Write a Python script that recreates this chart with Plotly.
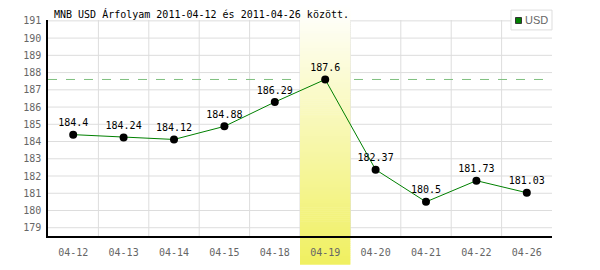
import plotly.graph_objects as go

dates = ["04-12", "04-13", "04-14", "04-15", "04-18", "04-19", "04-20", "04-21", "04-22", "04-26"]
usd = [184.4, 184.24, 184.12, 184.88, 186.29, 187.6, 182.37, 180.5, 181.73, 181.03]
y_ticks = list(range(179, 192))
title_text = "MNB USD Árfolyam 2011-04-12 és 2011-04-26 között."
legend_name = "USD"
highlight = "04-19"

W, H = 600, 270
ML, MR, MT, MB = 48, 48, 20, 32
plot_w = W - ML - MR
plot_h = H - MT - MB
mono = "DejaVu Sans Mono"
GRID = "#dddddd"

def px_x(px):
    return (px - ML) / plot_w

def px_y(py):
    return (H - MB - py) / plot_h

fig = go.Figure()
fig.add_trace(go.Scatter(
    x=dates, y=usd, mode="lines+markers+text",
    line=dict(color="#008000", width=1),
    marker=dict(color="#000000", size=8),
    text=[f"{v:g}" for v in usd], textposition="top center",
    textfont=dict(family=mono, size=10, color="#000000"),
    showlegend=False, cliponaxis=False,
))

n = len(dates)
shapes = []
# gridlines (drawn as shapes so the band can cover them)
for v in y_ticks:
    shapes.append(dict(type="line", xref="paper", yref="y", x0=0, x1=1, y0=v, y1=v,
                       line=dict(color=GRID, width=1), layer="below"))
for k in range(n - 1):
    shapes.append(dict(type="line", xref="x", yref="paper", x0=k + 0.5, x1=k + 0.5, y0=0, y1=1,
                       line=dict(color=GRID, width=1), layer="below"))

# max dashed line
shapes.append(dict(type="line", xref="paper", yref="y", x0=0, x1=1, y0=max(usd), y1=max(usd),
                   line=dict(color="#7fc07f", width=1, dash="dash"), layer="below"))

# highlight band gradient
hi = dates.index(highlight)
x0p = hi / n
x1p = (hi + 1) / n
top_px, bot_px = 5, 267
step = 2
def col(py):
    t = (py - top_px) / (bot_px - top_px)
    t = max(0, min(1, t))
    r = round(255 + (240 - 255) * t)
    g = round(255 + (240 - 255) * t)
    b = round(255 + (96 - 255) * t)
    return f"rgb({r},{g},{b})"
py = top_px
while py < bot_px:
    py2 = min(py + step, bot_px)
    c = col((py + py2) / 2)
    shapes.append(dict(type="rect", xref="paper", yref="paper", x0=x0p, x1=x1p,
                       y0=px_y(min(py2 + 0.6, bot_px)), y1=px_y(py), fillcolor=c,
                       line=dict(width=0), layer="below"))
    py = py2

# legend box
shapes.append(dict(type="rect", xref="paper", yref="paper", x0=px_x(511), x1=px_x(552),
                   y0=px_y(30), y1=px_y(10), fillcolor="white",
                   line=dict(color=GRID, width=1), layer="above"))
shapes.append(dict(type="rect", xref="paper", yref="paper", x0=px_x(515.5), x1=px_x(521.5),
                   y0=px_y(23.5), y1=px_y(17.5), fillcolor="#008000",
                   line=dict(color="#333333", width=1), layer="above"))

fig.update_layout(
    width=W, height=H,
    margin=dict(l=ML, r=MR, t=MT, b=MB),
    paper_bgcolor="white", plot_bgcolor="rgba(0,0,0,0)",
    shapes=shapes,
    showlegend=False,
    annotations=[
        dict(text=title_text, xref="paper", yref="paper", x=px_x(52), y=px_y(14),
             xanchor="left", yanchor="middle", showarrow=False,
             font=dict(family=mono, size=10, color="#000000")),
        dict(text=legend_name, xref="paper", yref="paper", x=px_x(523), y=px_y(20),
             xanchor="left", yanchor="middle", showarrow=False,
             font=dict(family="Liberation Sans Narrow, Liberation Sans", size=11, color="#666666")),
    ],
    xaxis=dict(type="category", range=[-0.5, n - 0.5], showgrid=False,
               showline=True, linecolor="#000000", linewidth=1.5,
               tickfont=dict(family=mono, size=10, color="#666666"),
               ticks="outside", ticklen=6, tickcolor="rgba(0,0,0,0)", fixedrange=True),
    yaxis=dict(range=[178.52, 191.05], tickvals=y_ticks, showgrid=False,
               showline=True, linecolor="#000000", linewidth=1.5, zeroline=False,
               tickfont=dict(family=mono, size=10, color="#666666"),
               ticks="outside", ticklen=3, tickcolor="rgba(0,0,0,0)"),
)
fig.write_html("out.html")
